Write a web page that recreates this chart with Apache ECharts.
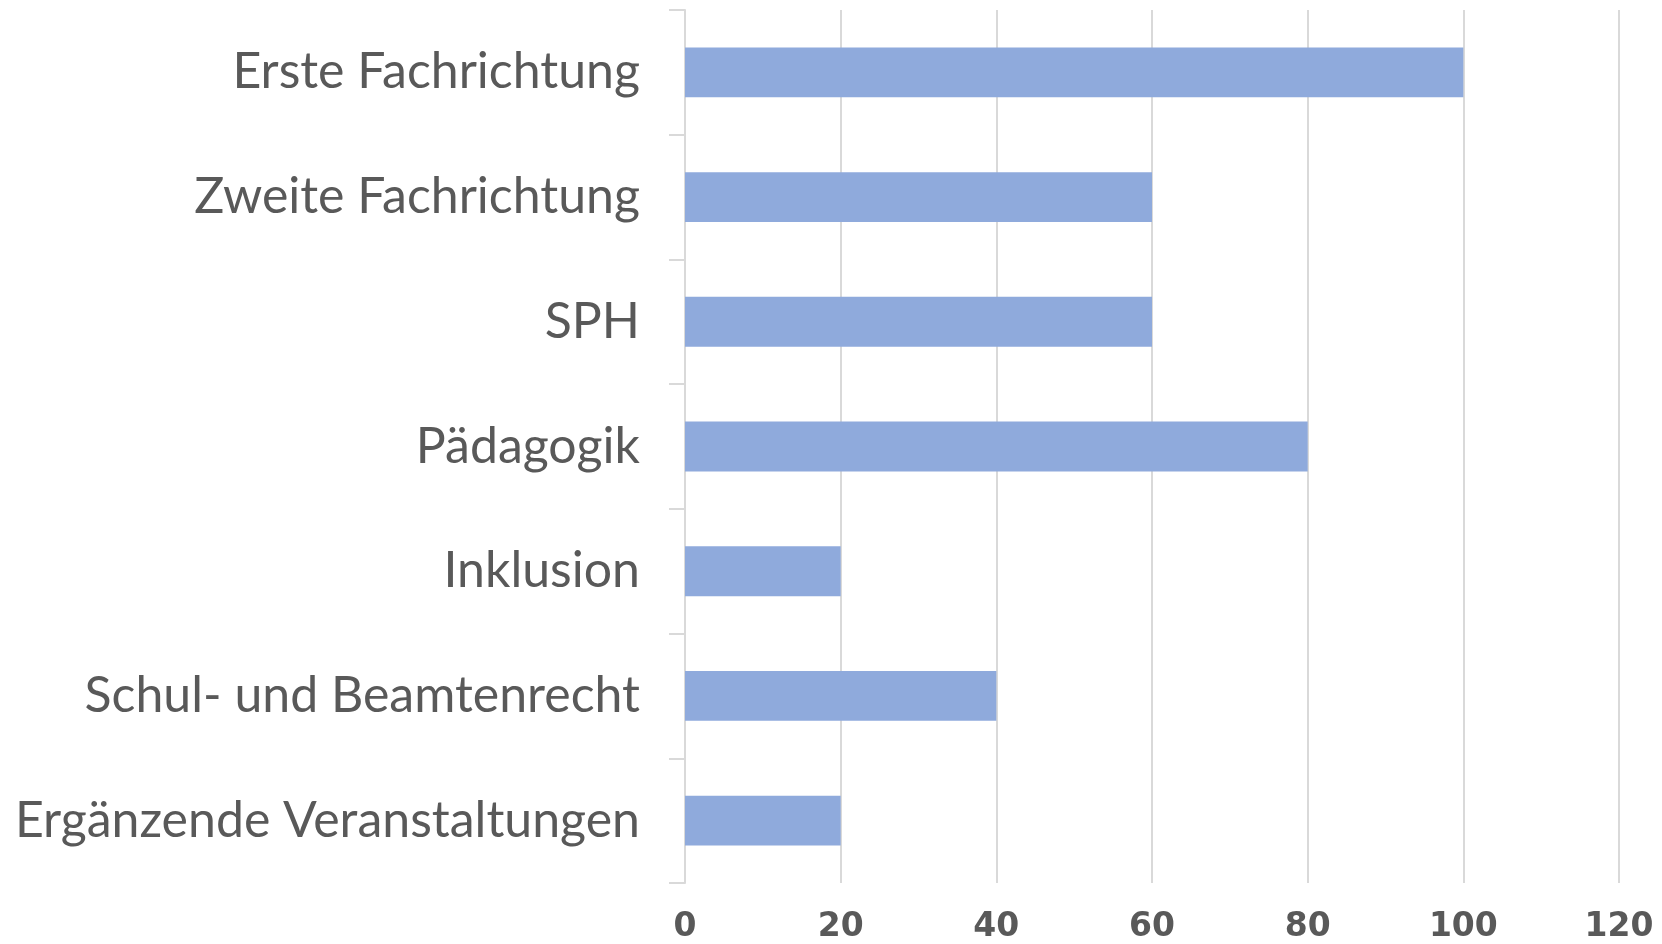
<!DOCTYPE html>
<html>
<head>
<meta charset="utf-8">
<script src="https://cdn.jsdelivr.net/npm/echarts@6/dist/echarts.min.js"></script>
<style>html,body{margin:0;padding:0;background:#fff;}#c{width:1662px;height:944px;}</style>
</head>
<body>
<div id="c"></div>
<script>
const categories = ["Erste Fachrichtung","Zweite Fachrichtung","SPH","Pädagogik","Inklusion","Schul- und Beamtenrecht","Ergänzende Veranstaltungen"];
const values = [100, 60, 60, 80, 20, 40, 20];
const xTicks = [0, 20, 40, 60, 80, 100, 120];

const chart = echarts.init(document.getElementById('c'), null, {renderer: 'canvas'});
chart.setOption({
  animation: false,
  grid: {left: 685, right: 43, top: 10, bottom: 61, containLabel: false},
  xAxis: {
    type: 'value', min: xTicks[0], max: xTicks[xTicks.length-1], interval: 20,
    axisLine: {show: false}, axisTick: {show: false},
    splitLine: {show: true, lineStyle: {color: '#d9d9d9', width: 2}},
    axisLabel: {color: '#595959', fontFamily: 'DejaVu Sans', fontWeight: 'bold', fontSize: 33, margin: 28}
  },
  yAxis: {
    type: 'category', data: categories, inverse: true,
    axisLine: {show: true, lineStyle: {color: '#d9d9d9', width: 2}},
    axisTick: {show: true, length: 16, lineStyle: {color: '#d9d9d9', width: 2}},
    axisLabel: {color: '#595959', fontFamily: 'Lato', fontSize: 50, margin: 45}
  },
  series: [{
    type: 'bar', data: values, barWidth: '40%',
    itemStyle: {color: '#8faadc'}
  }]
});
</script>
</body>
</html>
